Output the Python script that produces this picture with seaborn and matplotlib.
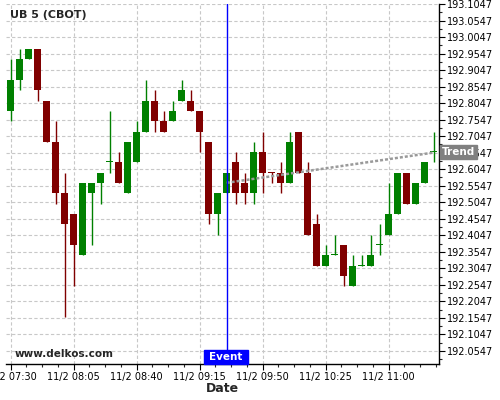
import matplotlib
matplotlib.use('Agg')
import matplotlib.pyplot as plt
from matplotlib.patches import Rectangle
from matplotlib.ticker import FixedLocator, FuncFormatter
import seaborn as sns
import pandas as pd
import numpy as np

# candle data (5 min bars, 11/2 07:30 -> 11:25)
opens = [192.78125, 192.875, 192.9375, 192.96875, 192.8125, 192.6875, 192.53125, 192.46875,
         192.34375, 192.53125, 192.5625, 192.625, 192.625, 192.53125, 192.625, 192.71875,
         192.8125, 192.75, 192.75, 192.8125, 192.8125, 192.78125, 192.6875, 192.46875,
         192.53125, 192.625, 192.5625, 192.53125, 192.65625, 192.5950, 192.59375, 192.5625,
         192.71875, 192.59375, 192.4375, 192.3125, 192.34375, 192.375, 192.25, 192.3125,
         192.3125, 192.375, 192.40625, 192.46875, 192.59375, 192.5, 192.5625, 192.65625]
highs = [192.9375, 192.96875, 192.96875, 192.96875, 192.8125, 192.75, 192.59375, 192.46875,
         192.5625, 192.5625, 192.59375, 192.78125, 192.65625, 192.6875, 192.75, 192.875,
         192.84375, 192.78125, 192.8125, 192.875, 192.84375, 192.78125, 192.6875, 192.53125,
         192.59375, 192.65625, 192.59375, 192.6875, 192.71875, 192.5950, 192.625, 192.71875,
         192.71875, 192.625, 192.46875, 192.375, 192.40625, 192.375, 192.34375, 192.34375,
         192.40625, 192.4375, 192.5625, 192.59375, 192.59375, 192.5625, 192.625, 192.71875]
lows = [192.75, 192.84375, 192.9375, 192.8125, 192.6875, 192.5, 192.15625, 192.25,
        192.34375, 192.375, 192.5, 192.59375, 192.5625, 192.53125, 192.625, 192.71875,
        192.71875, 192.71875, 192.75, 192.8125, 192.78125, 192.65625, 192.4375, 192.40625,
        192.53125, 192.5, 192.5, 192.5, 192.53125, 192.5625, 192.53125, 192.5625,
        192.59375, 192.40625, 192.3125, 192.3125, 192.34375, 192.25, 192.25, 192.3125,
        192.3125, 192.34375, 192.40625, 192.46875, 192.5, 192.5, 192.5625, 192.625]
closes = [192.875, 192.9375, 192.96875, 192.84375, 192.6875, 192.53125, 192.4375, 192.375,
          192.5625, 192.5625, 192.59375, 192.625, 192.5625, 192.6875, 192.71875, 192.8125,
          192.75, 192.71875, 192.78125, 192.84375, 192.78125, 192.71875, 192.46875, 192.53125,
          192.59375, 192.53125, 192.53125, 192.65625, 192.59375, 192.5925, 192.5625, 192.6875,
          192.59375, 192.40625, 192.3125, 192.34375, 192.34375, 192.28125, 192.3125, 192.3125,
          192.34375, 192.375, 192.46875, 192.59375, 192.5, 192.5625, 192.625, 192.65625]

tick_pos = [0, 7, 14, 21, 28, 35, 42]
tick_labels = ['11/2 07:30', '11/2 08:05', '11/2 08:40', '11/2 09:15',
               '11/2 09:50', '11/2 10:25', '11/2 11:00']
event_idx = 24
trend_x = [24, 47]
trend_y = [192.5635, 192.6550]
yticks = [192.0547, 192.1047, 192.1547, 192.2047, 192.2547, 192.3047, 192.3547, 192.4047,
          192.4547, 192.5047, 192.5547, 192.6047, 192.6547, 192.7047, 192.7547, 192.8047,
          192.8547, 192.9047, 192.9547, 193.0047, 193.0547, 193.1047]

df = pd.DataFrame({'open': opens, 'high': highs, 'low': lows, 'close': closes})
df['x'] = np.arange(len(df))
df['up'] = df['close'] >= df['open']
df['color'] = np.where(df['up'], '#008000', '#800000')

sns.set_style('white')
plt.rcParams['font.family'] = ['DejaVu Sans']

fig = plt.figure(figsize=(5, 4), dpi=100)
ax = fig.add_axes([0.012, 0.09, 0.866, 0.90])

# grid
for y in yticks:
    ax.axhline(y, color='#c8c8c8', lw=0.8, ls=(0, (3, 2)), zorder=0)
for x in tick_pos:
    ax.axvline(x, color='#c8c8c8', lw=0.8, ls=(0, (3, 2)), zorder=0)

# wicks + bodies
ax.vlines(df['x'], df['low'], df['high'], colors=df['color'], lw=1.0, zorder=2)
body_h = np.maximum((df['close'] - df['open']).abs(), 0.003)
ax.bar(df['x'], body_h, bottom=np.minimum(df['open'], df['close']), width=0.78,
       color=df['color'], linewidth=0, zorder=3)

# trend line
sns.lineplot(x=trend_x, y=trend_y, ax=ax, color='#9a9a9a', lw=1.8,
             linestyle=(0, (1.2, 0.8)), zorder=4)

# event line
ax.axvline(event_idx, color='blue', lw=1.0, zorder=5)

ax.set_xlim(-0.52, 47.59)
ax.set_ylim(192.015, 193.1047)

ax.yaxis.tick_right()
ax.yaxis.set_major_locator(FixedLocator(yticks))
ax.yaxis.set_major_formatter(FuncFormatter(lambda v, p: '%.4f' % v))
ax.yaxis.set_minor_locator(FixedLocator([v - 0.025 for v in yticks]))
ax.set_xticks(tick_pos)
ax.set_xticklabels(tick_labels)
ax.xaxis.set_minor_locator(FixedLocator(np.arange(0, 48, 1.75)))
ax.tick_params(axis='both', which='major', direction='out', length=4, width=0.8,
               labelsize=7, colors='black', pad=2)
ax.tick_params(axis='both', which='minor', direction='out', length=2, width=0.8)
ax.tick_params(axis='x', which='major', pad=2)
ax.tick_params(axis='y', which='both', left=False, right=True)
ax.tick_params(axis='x', which='both', bottom=True)

for s in ['left', 'top']:
    ax.spines[s].set_visible(False)
for s in ['right', 'bottom']:
    ax.spines[s].set_color('black')
    ax.spines[s].set_linewidth(1.0)

ax.set_xlabel('Date', fontsize=9, fontweight='bold', labelpad=0)
ax.set_ylabel('')

fig.text(10.5 / 500, 1 - 15.5 / 400, 'UB 5 (CBOT)', fontsize=8, fontweight='bold',
         ha='left', va='center')
fig.text(15 / 500, 1 - 354 / 400, 'www.delkos.com', fontsize=7.5, fontweight='bold',
         ha='left', va='center')

# event label
fig.add_artist(Rectangle((204 / 500, 1 - 364 / 400), 44 / 500, 14 / 400,
                         transform=fig.transFigure, color='blue', zorder=6))
fig.text(226 / 500, 1 - 357 / 400, 'Event', fontsize=7.5, fontweight='bold',
         color='white', ha='center', va='center', zorder=7)

# trend label
fig.add_artist(Rectangle((440 / 500, 1 - 159 / 400), 37 / 500, 14 / 400,
                         transform=fig.transFigure, color='#808080', zorder=6))
fig.text(458.5 / 500, 1 - 152 / 400, 'Trend', fontsize=7.5, fontweight='bold',
         color='white', ha='center', va='center', zorder=7)

fig.savefig('out.png', dpi=100)
